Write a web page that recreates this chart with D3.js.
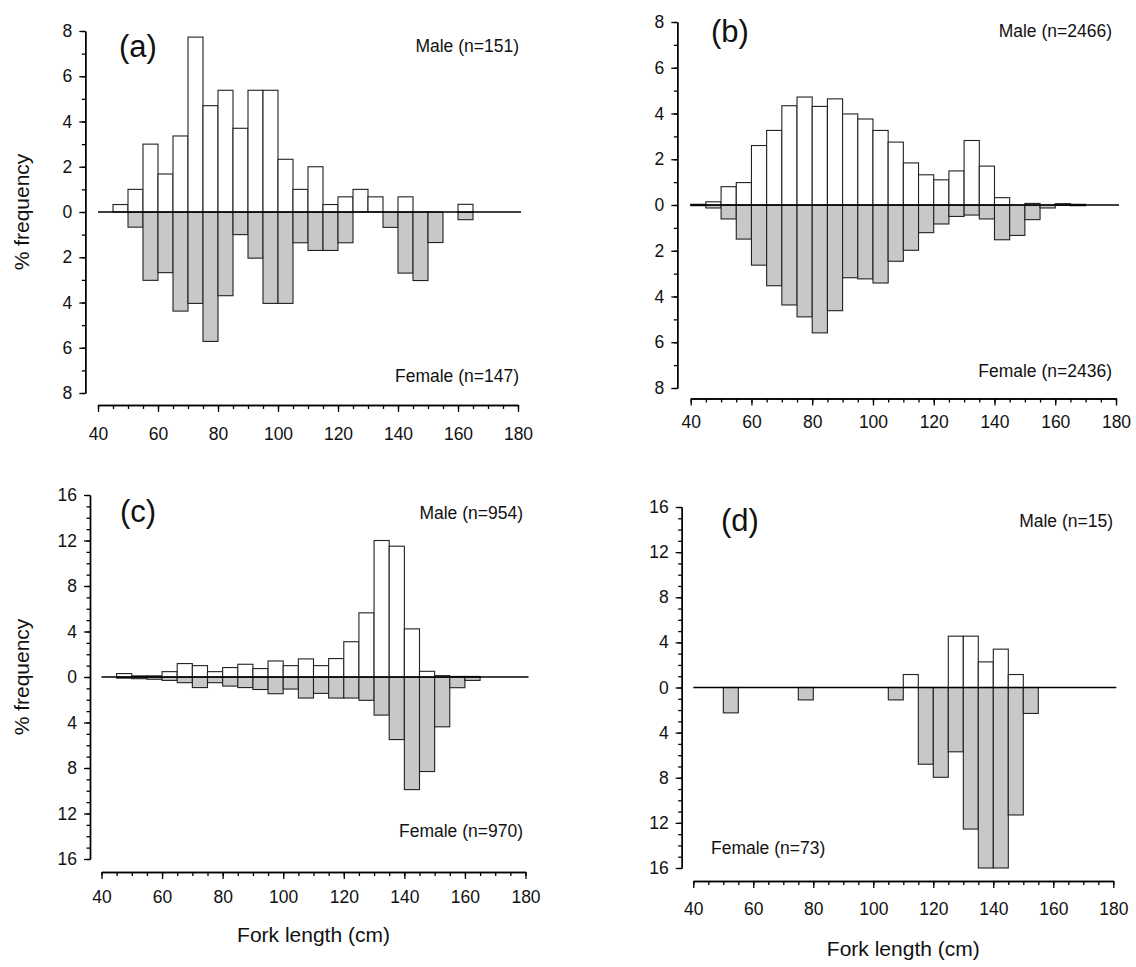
<!DOCTYPE html>
<html>
<head>
<meta charset="utf-8">
<script src="https://cdn.jsdelivr.net/npm/d3@7"></script>
<style>
  html, body { margin: 0; padding: 0; background: #fff; }
  svg text { font-family: "Liberation Sans", Arial, sans-serif; fill: #111; }
</style>
</head>
<body>
<svg id="chart" width="1136" height="967"></svg>
<script>
// Lower edges of the 5 cm fork-length classes (cm)
const binStarts = [40, 45, 50, 55, 60, 65, 70, 75, 80, 85, 90, 95, 100,
                   105, 110, 115, 120, 125, 130, 135, 140, 145, 150, 155, 160, 165];
const binWidth = 5;
const xTicks = [40, 60, 80, 100, 120, 140, 160, 180];

// (a) percentage frequency per class
const maleA   = [0, 0.33, 1.0, 3.0, 1.68, 3.36, 7.73, 4.7, 5.38, 3.7, 5.38, 5.38, 2.33,
                 1.0, 2.0, 0.33, 0.67, 1.0, 0.67, 0, 0.67, 0, 0, 0, 0.34, 0];
const femaleA = [0, 0, 0.67, 3.02, 2.68, 4.38, 4.04, 5.72, 3.7, 1.0, 2.04, 4.04, 4.04,
                 1.36, 1.7, 1.7, 1.36, 0, 0, 0.68, 2.7, 3.03, 1.35, 0, 0.34, 0];

// (b)
const maleB   = [0.03, 0.14, 0.8, 0.98, 2.6, 3.26, 4.34, 4.72, 4.31, 4.64, 3.98, 3.76, 3.26,
                 2.75, 1.84, 1.32, 1.1, 1.49, 2.82, 1.7, 0.32, 0, 0.07, 0, 0.06, 0.03];
const femaleB = [0.03, 0.13, 0.61, 1.49, 2.63, 3.53, 4.37, 4.89, 5.59, 4.62, 3.18, 3.23, 3.41,
                 2.46, 1.98, 1.21, 0.83, 0.5, 0.44, 0.61, 1.52, 1.33, 0.64, 0.13, 0.02, 0.03];

// (c)
const maleC   = [0, 0.3, 0.1, 0.1, 0.47, 1.18, 1.0, 0.47, 0.83, 1.12, 0.74, 1.41, 1.0,
                 1.59, 1.0, 1.62, 3.1, 5.64, 12.0, 11.5, 4.23, 0.5, 0.12, 0.05, 0.05, 0];
const femaleC = [0, 0.1, 0.15, 0.2, 0.3, 0.5, 0.93, 0.5, 0.8, 0.93, 1.1, 1.47, 1.06,
                 1.85, 1.44, 1.85, 1.85, 2.05, 3.35, 5.5, 9.9, 8.31, 4.38, 0.94, 0.3, 0];

// (d)
const maleD   = [0, 0, 0, 0, 0, 0, 0, 0, 0, 0, 0, 0, 0,
                 0, 1.15, 0, 0, 4.55, 4.55, 2.27, 3.4, 1.15, 0, 0, 0, 0];
const femaleD = [0, 0, 2.25, 0, 0, 0, 0, 1.1, 0, 0, 0, 0, 0,
                 1.1, 0, 6.8, 7.96, 5.7, 12.55, 16, 16, 11.3, 2.3, 0, 0, 0];

const panelLetters = ["(a)", "(b)", "(c)", "(d)"];
const maleLabels   = ["Male (n=151)", "Male (n=2466)", "Male (n=954)", "Male (n=15)"];
const femaleLabels = ["Female (n=147)", "Female (n=2436)", "Female (n=970)", "Female (n=73)"];
const yMaxes       = [8, 8, 16, 16];
const yMajorSteps  = [2, 2, 4, 4];
const yTitle = "% frequency";
const xTitle = "Fork length (cm)";

const FONT_TICK = 17.5, FONT_NOTE = 17.5, FONT_LETTER = 31, FONT_TITLE = 21;

// Panel geometry: plot box (x0..x1 for 40..180 cm, yTop..yBot for +max..-max)
const layout = [
  { x0: 98,    x1: 518,  yTop: 31,  yBot: 393, yAxisX: 85.3,  xAxisY: 405, xPad: 16,
    letter: [119, 57], male: [519, 52], female: [519, 382], female_anchor: "end",
    yTitleX: 29, xTitleY: null },
  { x0: 690.7, x1: 1116, yTop: 22,  yBot: 388, yAxisX: 677.3, xAxisY: 398.5, xPad: 10,
    letter: [711, 42], male: [1112, 37], female: [1112, 377], female_anchor: "end",
    yTitleX: null, xTitleY: null },
  { x0: 101.5, x1: 525.5, yTop: 495, yBot: 859, yAxisX: 90,  xAxisY: 872, xPad: 12,
    letter: [120, 522], male: [523, 519], female: [523, 837], female_anchor: "end",
    yTitleX: 29, xTitleY: 942 },
  { x0: 693.3, x1: 1113.3, yTop: 507, yBot: 868, yAxisX: 681.7, xAxisY: 881, xPad: 15,
    letter: [721, 531], male: [1113, 527], female: [711, 854], female_anchor: "start",
    yTitleX: null, xTitleY: 956 }
];

const maleSeries   = [maleA, maleB, maleC, maleD];
const femaleSeries = [femaleA, femaleB, femaleC, femaleD];

const svg = d3.select("#chart");

layout.forEach((L, i) => {
  const g = svg.append("g");
  const yMax = yMaxes[i];

  const x = d3.scaleLinear().domain([40, 180]).range([L.x0, L.x1]);
  // Males plotted upward, females downward
  const y = d3.scaleLinear().domain([yMax, -yMax]).range([L.yTop, L.yBot]);

  const male = binStarts.map((b, k) => ({ b, v: maleSeries[i][k] })).filter(d => d.v > 0);
  const female = binStarts.map((b, k) => ({ b, v: femaleSeries[i][k] })).filter(d => d.v > 0);

  // Female bars (grey, below zero)
  g.append("g").selectAll("rect").data(female).join("rect")
    .attr("x", d => x(d.b))
    .attr("width", d => x(d.b + binWidth) - x(d.b))
    .attr("y", y(0))
    .attr("height", d => y(-d.v) - y(0))
    .attr("fill", "#c8c8c8")
    .attr("stroke", "#222")
    .attr("stroke-width", 1.1);

  // Male bars (white, above zero)
  g.append("g").selectAll("rect").data(male).join("rect")
    .attr("x", d => x(d.b))
    .attr("width", d => x(d.b + binWidth) - x(d.b))
    .attr("y", d => y(d.v))
    .attr("height", d => y(0) - y(d.v))
    .attr("fill", "#fff")
    .attr("stroke", "#222")
    .attr("stroke-width", 1.1);

  // Zero line
  g.append("line")
    .attr("x1", x(40)).attr("x2", x(181))
    .attr("y1", y(0)).attr("y2", y(0))
    .attr("stroke", "#000").attr("stroke-width", 1.5);

  // Y axis: major ticks labelled with absolute values, minor ticks every 1 %
  const yAxisMajor = d3.axisLeft(y)
    .tickValues(d3.range(-yMax, yMax + 0.001, yMajorSteps[i]))
    .tickFormat(d => Math.abs(d))
    .tickSize(6).tickSizeOuter(0).tickPadding(7);
  const yAxisMinor = d3.axisLeft(y)
    .tickValues(d3.range(-yMax, yMax + 0.001, 1))
    .tickFormat("")
    .tickSize(3.5).tickSizeOuter(0);

  const gyMinor = g.append("g").attr("transform", `translate(${L.yAxisX},0)`).call(yAxisMinor);
  const gy = g.append("g").attr("transform", `translate(${L.yAxisX},0)`).call(yAxisMajor);

  // X axis: labelled every 20 cm, minor ticks every 5 cm
  const xAxisMajor = d3.axisBottom(x).tickValues(xTicks).tickFormat(d3.format("d"))
    .tickSize(7).tickSizeOuter(0).tickPadding(L.xPad);
  const xAxisMinor = d3.axisBottom(x).tickValues(d3.range(40, 181, 5)).tickFormat("")
    .tickSize(4).tickSizeOuter(0);
  const gxMinor = g.append("g").attr("transform", `translate(0,${L.xAxisY})`).call(xAxisMinor);
  const gx = g.append("g").attr("transform", `translate(0,${L.xAxisY})`).call(xAxisMajor);

  [gy, gyMinor, gx, gxMinor].forEach(a => {
    a.select(".domain").attr("stroke", "#000").attr("stroke-width", 1.4);
    a.selectAll(".tick line").attr("stroke", "#000").attr("stroke-width", 1.3);
    a.selectAll("text").attr("font-size", FONT_TICK).attr("fill", "#111")
      .attr("font-family", "'Liberation Sans', Arial, sans-serif");
  });

  // Panel letter and sample sizes
  g.append("text").attr("x", L.letter[0]).attr("y", L.letter[1])
    .attr("font-size", FONT_LETTER).text(panelLetters[i]);
  g.append("text").attr("x", L.male[0]).attr("y", L.male[1])
    .attr("text-anchor", "end").attr("font-size", FONT_NOTE).text(maleLabels[i]);
  g.append("text").attr("x", L.female[0]).attr("y", L.female[1])
    .attr("text-anchor", L.female_anchor).attr("font-size", FONT_NOTE).text(femaleLabels[i]);

  if (L.yTitleX !== null) {
    const cy = y(0);
    g.append("text")
      .attr("transform", `translate(${L.yTitleX},${cy}) rotate(-90)`)
      .attr("text-anchor", "middle").attr("font-size", FONT_TITLE).text(yTitle);
  }
  if (L.xTitleY !== null) {
    g.append("text").attr("x", x(110)).attr("y", L.xTitleY)
      .attr("text-anchor", "middle").attr("font-size", FONT_TITLE).text(xTitle);
  }
});
</script>
</body>
</html>
